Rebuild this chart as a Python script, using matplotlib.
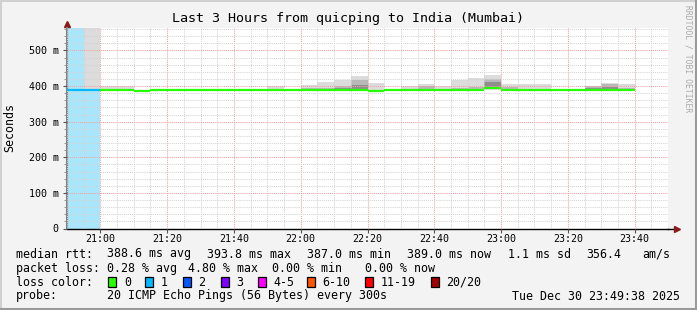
import matplotlib
matplotlib.use("Agg")
import matplotlib.pyplot as plt
from matplotlib.patches import Rectangle
from matplotlib.lines import Line2D
import numpy as np

# 5-minute bins, minutes after midnight (20:50 .. 23:35)
bin_start = np.arange(20 * 60 + 50, 23 * 60 + 40, 5)

# median rtt per bin (ms)
median = [389.0, 389.0, 388.6, 388.6, 387.0, 388.6, 388.6, 388.6, 388.6, 388.6,
          388.6, 388.6, 388.6, 388.6, 388.6, 388.6, 388.6, 388.6, 387.2, 388.6,
          388.6, 388.6, 388.6, 388.6, 388.6, 393.8, 388.6, 388.6, 388.6, 388.6,
          388.6, 388.6, 388.6, 389.0]
# pings lost (of 20) per bin
loss = [1, 1, 0, 0, 0, 0, 0, 0, 0, 0, 0, 0, 0, 0, 0, 0, 0, 0, 0, 0,
        0, 0, 0, 0, 0, 0, 0, 0, 0, 0, 0, 0, 0, 0]
# smoke: lowest / highest ping and the tops of the denser bands (ms)
smoke_min = [388, 388, 387, 387, 386, 387, 387, 387, 387, 387,
             387, 387, 387, 387, 387, 387, 387, 387, 386, 387,
             387, 387, 387, 387, 387, 389, 387, 385, 387, 387,
             385, 387, 387, 387]
smoke_max = [390, 600, 399, 399, 390, 390, 390, 390, 390, 390,
             390, 390, 401, 390, 404, 410, 417, 428, 408, 390,
             401, 405, 400, 417, 423, 431, 405, 405, 405, 390,
             390, 400, 409, 405]
smoke_mid = [390, 390, 390, 390, 390, 390, 390, 390, 390, 390,
             390, 390, 392, 390, 394, 394, 399, 417, 390, 390,
             392, 399, 392, 395, 396, 421, 396, 393, 393, 390,
             390, 400, 406, 394]
smoke_dark = [390, 390, 390, 390, 390, 390, 390, 390, 390, 390,
              390, 390, 390, 390, 390, 390, 394, 402, 390, 390,
              390, 393, 390, 390, 392, 411, 392, 390, 390, 390,
              390, 394, 397, 390]

loss_labels = ["0", "1", "2", "3", "4-5", "6-10", "11-19", "20/20"]
loss_colors = ["#26ff00", "#00b8ff", "#0059ff", "#7e00ff", "#ff00ff",
               "#ff5500", "#ff0000", "#a10000"]
loss_bg = ["#ffffff", "#aae6fb"]

xticks = np.arange(21 * 60, 23 * 60 + 41, 20)
xlabels = ["21:00", "21:20", "21:40", "22:00", "22:20", "22:40", "23:00", "23:20", "23:40"]
yticks = [0, 100, 200, 300, 400, 500]
ylabels = ["0", "100 m", "200 m", "300 m", "400 m", "500 m"]

W, H = 697, 310
mono = "DejaVu Sans Mono"
fig = plt.figure(figsize=(W / 100, H / 100), dpi=100, facecolor="#f3f3f3")
ax = fig.add_axes([67 / W, 1 - 228.5 / H, (668 - 67) / W, (228.5 - 28) / H])
ax.set_facecolor("white")
ax.set_xlim(20 * 60 + 50, 23 * 60 + 50)
ax.set_ylim(0, 563)

# loss background
for t, l in zip(bin_start, loss):
    if l > 0:
        ax.bar(t, 563, width=5, align="edge", color=loss_bg[1], lw=0, zorder=1)

# smoke
med = np.array(median)
ax.bar(bin_start, np.array(smoke_max) - np.array(smoke_min), bottom=smoke_min,
       width=5, align="edge", color="#dcdcdc", lw=0, zorder=1.2)
ax.bar(bin_start, np.array(smoke_mid) - med + 2, bottom=med - 2,
       width=5, align="edge", color="#b8b8b8", lw=0, zorder=1.3)
ax.bar(bin_start, np.array(smoke_dark) - med + 1, bottom=med - 1,
       width=5, align="edge", color="#8e8e8e", lw=0, zorder=1.4)

# grid (drawn over the smoke, like rrdtool)
ax.set_xticks(xticks)
ax.set_xticks(np.arange(20 * 60 + 50, 23 * 60 + 50, 5), minor=True)
ax.set_yticks(yticks)
ax.set_yticks(np.arange(0, 563, 20), minor=True)
ax.grid(which="minor", color="#d4d4d4", ls=(0, (1, 1)), lw=0.75, zorder=2)
ax.grid(which="major", color="#f2a0a0", ls=(0, (1, 1)), lw=0.75, zorder=2.1)
ax.set_axisbelow(False)

# median line coloured by loss
colors = [loss_colors[1] if l == 1 else loss_colors[0] for l in loss]
ax.hlines(median, bin_start, bin_start + 5, colors=colors, lw=1.6, zorder=3)

ax.set_xticklabels(xlabels, fontfamily=mono, fontsize=7.2)
ax.set_yticklabels(ylabels, fontfamily=mono, fontsize=7.2)
ax.tick_params(which="major", length=3, width=0.8, color="#555555", pad=3)
ax.tick_params(axis="x", which="major", pad=1)
ax.tick_params(which="minor", length=2, width=0.6, color="#888888")
ax.tick_params(axis="x", which="minor", length=0)

for s in ["top", "right"]:
    ax.spines[s].set_visible(False)
ax.spines["left"].set_color("#808080")
ax.spines["left"].set_linewidth(1.5)
ax.spines["bottom"].set_color("black")
ax.spines["bottom"].set_linewidth(1.0)
ax.plot([1, 1.012], [0, 0], color="black", lw=1.0, transform=ax.transAxes, clip_on=False)
ax.plot([1.015], [0], marker=">", color="#8b1a1a", ms=5, transform=ax.transAxes, clip_on=False)
ax.plot([0, 0], [1, 1.02], color="#808080", lw=1.5, transform=ax.transAxes, clip_on=False)
ax.plot([0], [1.02], marker="^", color="#8b1a1a", ms=5, transform=ax.transAxes, clip_on=False)


def ftext(x, y, s, **kw):
    kw.setdefault("fontsize", 8.4)
    fig.text(x / W, 1 - y / H, s, va="center", fontfamily=mono, **kw)


ftext(347.5, 18.5, "Last 3 Hours from quicping to India (Mumbai)", ha="center", fontsize=9.6)
fig.text(10 / W, 1 - 128 / H, "Seconds", rotation=90, ha="center", va="center",
         fontfamily=mono, fontsize=8.4)
fig.text(688 / W, 1 - 59 / H, "RRDTOOL / TOBI OETIKER", rotation=270, ha="center",
         va="center", fontfamily=mono, fontsize=5.8, color="#aaaaaa")

ftext(16, 254, "median rtt:")
for x, s in zip([107.3, 207.3, 307.3, 407.3, 507.7, 586.7, 642.3],
                ["388.6 ms avg", "393.8 ms max", "387.0 ms min", "389.0 ms now",
                 "1.1 ms sd", "356.4", "am/s"]):
    ftext(x, 254, s)

ftext(16, 268.3, "packet loss:")
for x, s in zip([107.3, 188.3, 271.7, 365],
                ["0.28 % avg", "4.80 % max", "0.00 % min", "0.00 % now"]):
    ftext(x, 268.3, s)

ftext(16, 282.3, "loss color:")
for x, lab, c in zip([108.3, 145.3, 182.7, 221, 258.3, 306.7, 365, 431],
                     loss_labels, loss_colors):
    fig.add_artist(Rectangle((x / W, 1 - 287 / H), 8 / W, 10 / H, facecolor=c,
                             edgecolor="black", lw=0.9, transform=fig.transFigure))
    ftext(x + 15.5, 282.3, lab)

ftext(16, 296, "probe:")
ftext(107.3, 296, "20 ICMP Echo Pings (56 Bytes) every 300s")
ftext(680, 296, "Tue Dec 30 23:49:38 2025", ha="right")

# canvas border
fig.add_artist(Line2D([0, 1], [1 - 1 / H, 1 - 1 / H], color="#d0d0d0", lw=1.5, transform=fig.transFigure))
fig.add_artist(Line2D([1 / W, 1 / W], [0, 1], color="#d0d0d0", lw=1.5, transform=fig.transFigure))
fig.add_artist(Line2D([0, 1], [1 / H, 1 / H], color="#9a9a9a", lw=1.5, transform=fig.transFigure))
fig.add_artist(Line2D([1 - 1 / W, 1 - 1 / W], [0, 1], color="#9a9a9a", lw=1.5, transform=fig.transFigure))

fig.savefig("out.png", dpi=100, facecolor=fig.get_facecolor())
